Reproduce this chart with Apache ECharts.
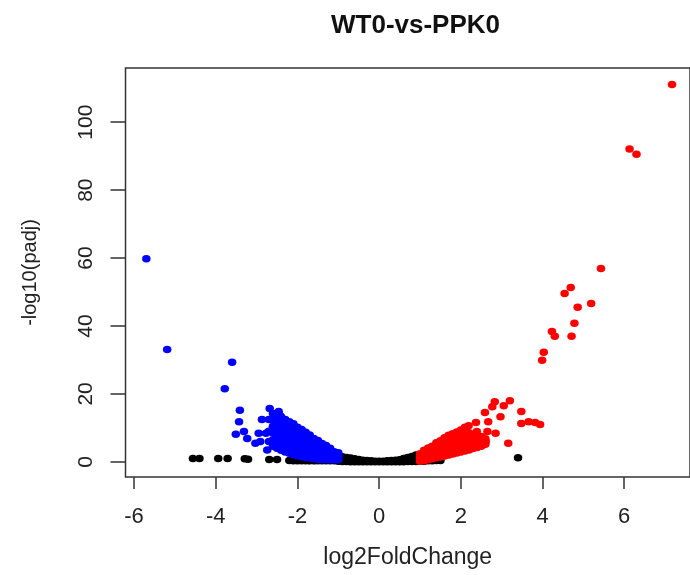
<!DOCTYPE html>
<html>
<head>
<meta charset="utf-8">
<title>WT0-vs-PPK0</title>
<script src="https://cdn.jsdelivr.net/npm/echarts@6/dist/echarts.min.js"></script>
<style>
    html, body { margin: 0; padding: 0; background: #fff; }
    #chart { width: 690px; height: 575px; }
</style>
</head>
<body>
<div id="chart"></div>
<script>
// 坐标轴刻度
const xTicks = [-6, -4, -2, 0, 2, 4, 6]
const yTicks = [0, 20, 40, 60, 80, 100]

// 不显著 (black)
const nsPoints = [
    [-4.56, 1.0], [-4.40, 1.0], [-3.94, 1.0], [-3.71, 1.0], [-3.29, 0.9], [-3.21, 0.8],
    [-2.69, 0.7], [-2.50, 0.7], [-2.05, 0.5], [-1.72, 0.4], [-1.58, 0.4], [3.40, 1.2],
    [-2.2, 0.4], [-2.1, 0.3], [-2.0, 0.3], [-1.9, 0.3], [-1.8, 0.3], [-1.7, 0.3], [-1.6, 0.3],
    [-1.5, 0.3], [-1.4, 0.3], [-1.3, 0.3], [-1.2, 0.3], [-1.1, 0.3],
    [1.1, 0.2], [1.2, 0.3], [1.3, 0.3], [1.4, 0.4], [1.5, 0.4],
    [-1.0, 0.2], [-1.0, 1.0], [-1.0, 1.7],
    [-0.9, 0.1], [-0.9, 0.8], [-0.9, 1.5],
    [-0.8, 0.1], [-0.8, 0.7], [-0.8, 1.3],
    [-0.7, 0.0], [-0.7, 0.6], [-0.7, 1.1],
    [-0.6, 0.0], [-0.6, 0.5], [-0.6, 0.9],
    [-0.5, 0.0], [-0.5, 0.7], [-0.4, 0.0], [-0.4, 0.5],
    [-0.3, 0.0], [-0.3, 0.4], [-0.2, 0.0], [-0.2, 0.3],
    [-0.1, 0.0], [-0.1, 0.2], [0.0, 0.0], [0.0, 0.2],
    [0.1, 0.0], [0.1, 0.2], [0.2, 0.0], [0.2, 0.3],
    [0.3, 0.0], [0.3, 0.4], [0.4, 0.0], [0.4, 0.5],
    [0.5, 0.0], [0.5, 0.6],
    [0.6, 0.0], [0.6, 0.7], [0.6, 1.0],
    [0.7, 0.1], [0.7, 0.8], [0.7, 1.3],
    [0.8, 0.1], [0.8, 0.9], [0.8, 1.6],
    [0.9, 0.1], [0.9, 1.1], [0.9, 2.0],
    [1.0, 0.2], [1.0, 1.3]
]

// 下调 (blue)
const downPoints = [
    [-5.70, 59.8], [-5.19, 33.1], [-3.60, 29.3], [-3.78, 21.5],
    [-3.41, 15.2], [-3.43, 11.8], [-3.51, 8.1], [-3.31, 8.9], [-3.23, 6.9], [-3.03, 5.5],
    [-2.95, 8.4], [-2.77, 8.4], [-2.87, 12.5], [-2.91, 6.0], [-2.74, 3.5],
    [-2.68, 15.7], [-2.46, 14.8], [-2.42, 13.5],
    [-1.0, 0.6], [-1.0, 1.7], [-1.0, 2.7],
    [-1.1, 0.6], [-1.1, 1.8], [-1.1, 3.0],
    [-1.2, 0.6], [-1.2, 1.8], [-1.2, 3.0], [-1.2, 4.0],
    [-1.3, 0.7], [-1.3, 1.9], [-1.3, 3.1], [-1.3, 4.3], [-1.3, 4.8],
    [-1.4, 0.7], [-1.4, 1.9], [-1.4, 3.1], [-1.4, 4.3], [-1.4, 5.4],
    [-1.5, 0.8], [-1.5, 2.0], [-1.5, 3.2], [-1.5, 4.4], [-1.5, 5.6], [-1.5, 6.3],
    [-1.6, 1.0], [-1.6, 2.2], [-1.6, 3.4], [-1.6, 4.6], [-1.6, 5.8], [-1.6, 6.9],
    [-1.7, 1.1], [-1.7, 2.3], [-1.7, 3.5], [-1.7, 4.7], [-1.7, 5.9], [-1.7, 7.1], [-1.7, 7.9],
    [-1.8, 1.3], [-1.8, 2.5], [-1.8, 3.7], [-1.8, 4.9], [-1.8, 6.1], [-1.8, 7.3], [-1.8, 8.7],
    [-1.9, 1.5], [-1.9, 2.7], [-1.9, 3.9], [-1.9, 5.1], [-1.9, 6.3], [-1.9, 7.5], [-1.9, 8.7], [-1.9, 9.5],
    [-2.0, 1.8], [-2.0, 3.0], [-2.0, 4.2], [-2.0, 5.4], [-2.0, 6.6], [-2.0, 7.8], [-2.0, 9.0], [-2.0, 10.2],
    [-2.1, 2.1], [-2.1, 3.3], [-2.1, 4.5], [-2.1, 5.7], [-2.1, 6.9], [-2.1, 8.1], [-2.1, 9.3], [-2.1, 10.5], [-2.1, 11.2],
    [-2.2, 2.5], [-2.2, 3.7], [-2.2, 4.9], [-2.2, 6.1], [-2.2, 7.3], [-2.2, 8.5], [-2.2, 9.7], [-2.2, 10.9], [-2.2, 11.8],
    [-2.3, 2.9], [-2.3, 4.1], [-2.3, 5.3], [-2.3, 6.5], [-2.3, 7.7], [-2.3, 8.9], [-2.3, 10.1], [-2.3, 11.3], [-2.3, 12.5],
    [-2.4, 3.4], [-2.4, 4.6], [-2.4, 5.8], [-2.4, 7.0], [-2.4, 8.2], [-2.4, 9.4], [-2.4, 10.6], [-2.4, 11.8], [-2.4, 13.2],
    [-2.5, 4.0], [-2.5, 5.5], [-2.5, 7.0], [-2.5, 8.5], [-2.5, 10.0], [-2.5, 11.5], [-2.5, 13.0], [-2.5, 14.0],
    [-2.6, 4.6], [-2.6, 6.5], [-2.6, 8.5], [-2.6, 10.5], [-2.6, 12.5], [-2.6, 14.2],
    [-2.7, 6.0], [-2.7, 9.0], [-2.7, 12.5]
]

// 上调 (red)
const upPoints = [
    [7.17, 111.1], [6.13, 92.1], [6.30, 90.6], [5.43, 56.9], [4.69, 51.3], [4.54, 49.6],
    [5.19, 46.6], [4.86, 45.5], [4.78, 40.8], [4.23, 38.4], [4.30, 37.0], [4.71, 37.0],
    [4.03, 32.3], [3.99, 29.9],
    [3.20, 18.0], [3.05, 16.5], [2.83, 17.7], [2.77, 16.2], [2.59, 14.5], [2.97, 13.3],
    [2.67, 11.8], [3.48, 14.8], [3.48, 11.3], [3.66, 11.8], [3.82, 11.6], [3.94, 11.0],
    [3.16, 5.5], [2.37, 11.6], [2.19, 10.6], [2.39, 8.9], [2.85, 8.4], [2.65, 8.9],
    [2.49, 6.9], [2.33, 5.0], [2.00, 9.4], [2.61, 6.0],
    [1.0, 0.2], [1.0, 1.2], [1.0, 2.4],
    [1.1, 0.3], [1.1, 1.5], [1.1, 2.8], [1.1, 3.4],
    [1.2, 0.6], [1.2, 1.8], [1.2, 3.0], [1.2, 4.1],
    [1.3, 0.9], [1.3, 2.1], [1.3, 3.3], [1.3, 4.6],
    [1.4, 1.2], [1.4, 2.4], [1.4, 3.6], [1.4, 4.8], [1.4, 5.6],
    [1.5, 1.4], [1.5, 2.6], [1.5, 3.8], [1.5, 5.0], [1.5, 6.2],
    [1.6, 1.7], [1.6, 2.9], [1.6, 4.1], [1.6, 5.3], [1.6, 6.5], [1.6, 7.1],
    [1.7, 2.0], [1.7, 3.2], [1.7, 4.4], [1.7, 5.6], [1.7, 6.8], [1.7, 7.8],
    [1.8, 2.3], [1.8, 3.5], [1.8, 4.7], [1.8, 5.9], [1.8, 7.1], [1.8, 8.3],
    [1.9, 2.6], [1.9, 3.8], [1.9, 5.0], [1.9, 6.2], [1.9, 7.4], [1.9, 8.8],
    [2.0, 2.9], [2.0, 4.1], [2.0, 5.3], [2.0, 6.5], [2.0, 7.7],
    [2.1, 3.2], [2.1, 4.4], [2.1, 5.6], [2.1, 6.8], [2.1, 8.0], [2.1, 10.2],
    [2.2, 3.5], [2.2, 4.7], [2.2, 6.0], [2.2, 7.2], [2.2, 8.6],
    [2.3, 3.9], [2.3, 5.1], [2.3, 6.4], [2.3, 7.8],
    [2.4, 4.2], [2.4, 5.5], [2.4, 6.9],
    [2.5, 4.6], [2.5, 6.0], [2.5, 7.5],
    [2.6, 5.2], [2.6, 6.8]
]

const chart = echarts.init(document.getElementById('chart'))

const axisFont = 'Liberation Sans, Arial, Helvetica, sans-serif'

const option = {
    animation: false,
    backgroundColor: '#fff',
    title: {
        text: 'WT0-vs-PPK0',
        left: 326,
        top: 8,
        textStyle: {
            fontFamily: axisFont,
            fontWeight: 'bold',
            fontSize: 26,
            color: '#111'
        }
    },
    grid: {
        left: 125.5,
        top: 68,
        right: -7,
        bottom: 98,
        show: true,
        borderColor: '#333',
        borderWidth: 1.5,
        containLabel: false
    },
    xAxis: {
        type: 'value',
        min: -6.21,
        max: 7.61,
        name: 'log2FoldChange',
        nameLocation: 'middle',
        nameGap: 69,
        nameTextStyle: {
            fontFamily: axisFont,
            fontSize: 23,
            color: '#222'
        },
        splitLine: { show: false },
        axisLine: { show: false, onZero: false },
        axisTick: {
            show: true,
            inside: false,
            length: 12,
            customValues: xTicks,
            lineStyle: { color: '#333', width: 1.5 }
        },
        axisLabel: {
            customValues: xTicks,
            margin: 29,
            fontFamily: axisFont,
            fontSize: 22,
            color: '#222'
        }
    },
    yAxis: {
        type: 'value',
        min: -4.46,
        max: 115.96,
        name: '-log10(padj)',
        nameLocation: 'middle',
        nameRotate: 90,
        nameGap: 85,
        nameTextStyle: {
            fontFamily: axisFont,
            fontSize: 20,
            color: '#222'
        },
        splitLine: { show: false },
        axisLine: { show: false, onZero: false },
        axisTick: {
            show: true,
            inside: false,
            length: 15,
            customValues: yTicks,
            lineStyle: { color: '#333', width: 1.5 }
        },
        axisLabel: {
            customValues: yTicks,
            rotate: 90,
            margin: 29,
            fontFamily: axisFont,
            fontSize: 21,
            color: '#222'
        }
    },
    series: [{
        name: 'ns',
        type: 'scatter',
        symbolSize: [8.5, 7.5],
        itemStyle: { color: '#000', opacity: 1 },
        data: nsPoints
    }, {
        name: 'down',
        type: 'scatter',
        symbolSize: [8.5, 7.5],
        itemStyle: { color: '#0000ff', opacity: 1 },
        data: downPoints
    }, {
        name: 'up',
        type: 'scatter',
        symbolSize: [8.5, 7.5],
        itemStyle: { color: '#ff0000', opacity: 1 },
        data: upPoints
    }]
}

chart.setOption(option)
</script>
</body>
</html>
